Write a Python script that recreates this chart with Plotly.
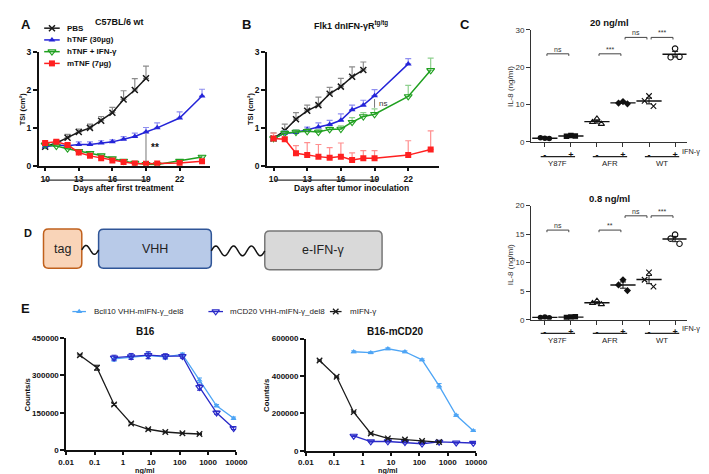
import numpy as np
import plotly.graph_objects as go

W, H = 709, 474
FONT = "Liberation Sans, Arial, sans-serif"

# ---------------- Panel A (C57BL/6 wt) ----------------
a_days_pbs = [10, 11, 12, 13, 14, 15, 16, 17, 18, 19]
a_pbs = [0.50, 0.60, 0.74, 0.89, 1.00, 1.19, 1.40, 1.75, 2.00, 2.31]
a_pbs_sem = [0.03, 0.04, 0.09, 0.08, 0.10, 0.11, 0.14, 0.23, 0.30, 0.32]
a_days = [10, 11, 12, 13, 14, 15, 16, 17, 18, 19, 20, 22, 24]
a_htnf = [0.50, 0.55, 0.53, 0.56, 0.56, 0.60, 0.63, 0.70, 0.77, 0.89, 1.00, 1.26, 1.84]
a_htnf_sem = [0.04, 0.05, 0.05, 0.07, 0.07, 0.06, 0.05, 0.07, 0.09, 0.12, 0.13, 0.16, 0.18]
a_combo = [0.55, 0.52, 0.45, 0.38, 0.33, 0.27, 0.19, 0.12, 0.07, 0.04, 0.03, 0.12, 0.23]
a_combo_sem = [0.03, 0.03, 0.04, 0.04, 0.04, 0.03, 0.03, 0.03, 0.02, 0.02, 0.02, 0.03, 0.04]
a_mtnf = [0.60, 0.63, 0.55, 0.35, 0.26, 0.20, 0.14, 0.10, 0.06, 0.05, 0.06, 0.07, 0.12]
a_mtnf_sem = [0.03, 0.04, 0.04, 0.04, 0.03, 0.03, 0.03, 0.02, 0.02, 0.02, 0.02, 0.02, 0.05]

# ---------------- Panel B (Flk1 dnIFN-gR tg/tg) ----------------
b_days_pbs = [10, 11, 12, 13, 14, 15, 16, 17, 18]
b_pbs = [0.72, 0.93, 1.23, 1.45, 1.60, 1.90, 2.09, 2.35, 2.53]
b_pbs_sem = [0.15, 0.17, 0.17, 0.15, 0.21, 0.17, 0.22, 0.26, 0.21]
b_days_htnf = [10, 11, 12, 13, 14, 15, 16, 17, 18, 19, 22]
b_htnf = [0.72, 0.86, 0.88, 0.96, 1.02, 1.09, 1.20, 1.48, 1.60, 1.85, 2.69]
b_htnf_sem = [0.05, 0.07, 0.06, 0.06, 0.11, 0.11, 0.17, 0.12, 0.13, 0.16, 0.14]
b_days = [10, 11, 12, 13, 14, 15, 16, 17, 18, 19, 22, 24]
b_combo = [0.72, 0.86, 0.89, 0.91, 0.89, 0.96, 0.97, 1.15, 1.30, 1.36, 1.83, 2.52]
b_combo_sem = [0.05, 0.05, 0.05, 0.06, 0.06, 0.06, 0.08, 0.12, 0.10, 0.14, 0.29, 0.32]
b_mtnf = [0.72, 0.70, 0.33, 0.28, 0.24, 0.21, 0.24, 0.15, 0.20, 0.20, 0.28, 0.43]
b_mtnf_sem = [0.14, 0.05, 0.20, 0.33, 0.32, 0.27, 0.36, 0.19, 0.20, 0.20, 0.38, 0.49]

day_ticks = [10, 13, 16, 19, 22]
tsi_ticks = [0, 1, 2, 3]
series_names = ["PBS", "hTNF (30µg)", "hTNF + IFN-γ", "mTNF (7µg)"]

# ---------------- Panel C (IL-8) ----------------
c_groups = ["Y87F", "AFR", "WT"]
c_ifn = ["-", "+", "-", "+", "-", "+"]
c_top = [[1.0, 1.1, 0.9], [1.7, 1.5, 1.6], [6.2, 5.3, 4.8],
         [10.8, 10.4, 10.2], [12.3, 11.0, 9.6], [25.0, 22.7, 22.8]]
c_bot = [[0.45, 0.40, 0.35], [0.45, 0.40, 0.50], [3.3, 2.9, 2.7],
         [7.0, 6.1, 5.1], [8.3, 7.0, 5.8], [14.9, 14.2, 13.3]]
c_top_ticks = [0, 10, 20, 30]
c_bot_ticks = [0, 5, 10, 15, 20]
# (left column, right column, level, label)
c_top_sig = [(0, 1, 23.6, "ns"), (2, 3, 23.6, "***"), (3, 4, 28.0, "ns"), (4, 5, 28.0, "***")]
c_bot_sig = [(0, 1, 15.7, "ns"), (2, 3, 15.7, "**"), (3, 4, 18.2, "ns"), (4, 5, 18.2, "***")]

# ---------------- Panel E (counts/s) ----------------
e_conc_fusion = [0.488, 1.95, 7.81, 31.25, 125, 500, 2000, 8000]
e_conc_mifn = [0.0305, 0.122, 0.488, 1.95, 7.81, 31.25, 125, 500]
e_names = ["Bcll10 VHH-mIFN-γ_del8", "mCD20 VHH-mIFN-γ_del8", "mIFN-γ"]
e_b16_bcll10 = [365000, 372000, 378000, 373000, 383000, 280000, 178000, 128000]
e_b16_bcll10_sem = [9000, 8000, 12000, 9000, 6000, 9000, 5000, 5000]
e_b16_mcd20 = [370000, 375000, 380000, 376000, 376000, 252000, 150000, 88000]
e_b16_mcd20_sem = [10000, 12000, 14000, 10000, 8000, 12000, 6000, 5000]
e_b16_mifn = [380000, 330000, 183000, 107000, 84000, 73000, 68000, 65000]
e_b16_mifn_sem = [3000, 10000, 4000, 3000, 3000, 3000, 2000, 2000]
e_cd20_bcll10 = [530000, 525000, 546000, 530000, 487000, 348000, 190000, 108000]
e_cd20_bcll10_sem = [5000, 5000, 5000, 5000, 5000, 12000, 5000, 4000]
e_cd20_mcd20 = [80000, 50000, 50000, 46000, 38000, 48000, 44000, 42000]
e_cd20_mcd20_sem = [3000, 3000, 3000, 3000, 3000, 3000, 3000, 3000]
e_cd20_mifn = [483000, 396000, 207000, 93000, 67000, 61000, 53000, 47000]
e_cd20_mifn_sem = [3000, 3000, 3000, 3000, 2000, 2000, 2000, 2000]
conc_ticks = [0.01, 0.1, 1, 10, 100, 1000, 10000]
e_b16_ticks = [0, 150000, 300000, 450000]
e_cd20_ticks = [0, 200000, 400000, 600000]

# ---------------- styles ----------------
BLACK = "#1a1a1a"
BLUE = "#2424d8"
GREEN = "#20a020"
RED = "#ff2020"
LBLUE = "#4ea5f5"
DBLUE = "#2a2ac8"
ab_styles = [
    dict(color=BLACK, symbol="x-thin", size=6, lw=1.5, err="#8c8c8c"),
    dict(color=BLUE, symbol="triangle-up", size=6, lw=0, err="#8f8ff0"),
    dict(color=GREEN, symbol="triangle-down-open", size=7, lw=1.1, err="#8ed08e"),
    dict(color=RED, symbol="square", size=6, lw=0, err="#ff8f8f"),
]


def px_x(p):
    return p / W


def px_y(p):
    return 1 - p / H


fig = go.Figure()


def growth_trace(x, y, sem, st, xa, ya):
    fig.add_trace(go.Scatter(
        x=x, y=y, mode="lines+markers", xaxis=xa, yaxis=ya, showlegend=False,
        line=dict(color=st["color"], width=1.5),
        marker=dict(symbol=st["symbol"], size=st["size"], color=st["color"],
                    line=dict(color=st["color"], width=st["lw"])),
        error_y=dict(type="data", symmetric=False, array=sem, arrayminus=[0] * len(sem),
                     color=st["err"], thickness=1.2, width=3),
    ))


# Panel A traces
for (x, y, s), st in zip([(a_days_pbs, a_pbs, a_pbs_sem), (a_days, a_htnf, a_htnf_sem),
                          (a_days, a_combo, a_combo_sem), (a_days, a_mtnf, a_mtnf_sem)], ab_styles):
    growth_trace(x, y, s, st, "x", "y")
# Panel B traces
for (x, y, s), st in zip([(b_days_pbs, b_pbs, b_pbs_sem), (b_days_htnf, b_htnf, b_htnf_sem),
                          (b_days, b_combo, b_combo_sem), (b_days, b_mtnf, b_mtnf_sem)], ab_styles):
    growth_trace(x, y, s, st, "x2", "y2")

# Panel C traces
c_symbols = ["circle", "square", "triangle-up-open", "diamond", "x-thin", "circle-open"]
jit = [0.0, -0.17, 0.17]
for data, xa, ya in [(c_top, "x3", "y3"), (c_bot, "x4", "y4")]:
    for i, reps in enumerate(data):
        sym = c_symbols[i]
        opn = ("open" in sym) or ("x" in sym)
        fig.add_trace(go.Scatter(
            x=[i + j for j in jit], y=reps, mode="markers", xaxis=xa, yaxis=ya, showlegend=False,
            marker=dict(symbol=sym, size=5.5, color="#111",
                        line=dict(color="#111", width=1.1 if opn else 0))))
        arr = np.array(reps)
        fig.add_trace(go.Scatter(
            x=[i], y=[arr.mean()], mode="markers", xaxis=xa, yaxis=ya, showlegend=False,
            marker=dict(symbol="line-ew", size=18, color="#111", line=dict(color="#111", width=1.4)),
            error_y=dict(type="data", array=[arr.std(ddof=1) / np.sqrt(len(arr))],
                         color="#111", thickness=1, width=3)))

# Panel E traces
e_styles = [
    dict(color=LBLUE, symbol="triangle-up", size=5.5, lw=0),
    dict(color=DBLUE, symbol="triangle-down-open", size=6.5, lw=1.2),
    dict(color=BLACK, symbol="x-thin", size=5.5, lw=1.3),
]
for sets, xa, ya in [
    ([(e_conc_fusion, e_b16_bcll10, e_b16_bcll10_sem), (e_conc_fusion, e_b16_mcd20, e_b16_mcd20_sem),
      (e_conc_mifn, e_b16_mifn, e_b16_mifn_sem)], "x5", "y5"),
    ([(e_conc_fusion, e_cd20_bcll10, e_cd20_bcll10_sem), (e_conc_fusion, e_cd20_mcd20, e_cd20_mcd20_sem),
      (e_conc_mifn, e_cd20_mifn, e_cd20_mifn_sem)], "x6", "y6")]:
    for (x, y, s), st in zip(sets, e_styles):
        fig.add_trace(go.Scatter(
            x=x, y=y, mode="lines+markers", xaxis=xa, yaxis=ya, showlegend=False,
            line=dict(color=st["color"], width=1.3),
            marker=dict(symbol=st["symbol"], size=st["size"], color=st["color"],
                        line=dict(color=st["color"], width=st["lw"])),
            error_y=dict(type="data", array=s, color=st["color"], thickness=1, width=2.5)))

# ---------------- legend keys on a pixel overlay axis ----------------
a_leg_rows = [15.5, 27.5, 39.5, 51.5]
for st, yy in zip(ab_styles, a_leg_rows):
    fig.add_trace(go.Scatter(x=[29, 45], y=[yy, yy], mode="lines", xaxis="x7", yaxis="y7",
                             showlegend=False, line=dict(color=st["color"], width=1.5)))
    fig.add_trace(go.Scatter(x=[37], y=[yy], mode="markers", xaxis="x7", yaxis="y7", showlegend=False,
                             marker=dict(symbol=st["symbol"], size=st["size"], color=st["color"],
                                         line=dict(color=st["color"], width=st["lw"]))))
e_leg_x = [(58, 72, 78), (198, 213, 218), (323, 335, 342)]
for st, (x0, x1, xt) in zip(e_styles, e_leg_x):
    fig.add_trace(go.Scatter(x=[x0, x1], y=[305, 305], mode="lines", xaxis="x7", yaxis="y7",
                             showlegend=False, line=dict(color=st["color"], width=1.3)))
    fig.add_trace(go.Scatter(x=[(x0 + x1) / 2], y=[305], mode="markers", xaxis="x7", yaxis="y7",
                             showlegend=False,
                             marker=dict(symbol=st["symbol"], size=st["size"], color=st["color"],
                                         line=dict(color=st["color"], width=st["lw"]))))

# ---------------- axes ----------------
def axis(**kw):
    d = dict(showline=True, linecolor="#111", linewidth=1.5, ticks="outside", ticklen=4,
             tickwidth=1.5, tickcolor="#111", showgrid=False, zeroline=False, fixedrange=True,
             tickfont=dict(family=FONT, size=8.5, color="#111", weight="bold"))
    d.update(kw)
    return d


c_font = dict(family=FONT, size=8, color="#333")
c_xfont = dict(family=FONT, size=9, color="#111", weight="bold")
e_font = dict(family=FONT, size=8, color="#111", weight="bold")
layout_axes = dict(
    xaxis=axis(domain=[px_x(23.3), px_x(199.5)], range=[9.42, 24.7], tickvals=day_ticks, anchor="y"),
    yaxis=axis(domain=[px_y(156), px_y(40)], range=[0, 3], tickvals=tsi_ticks, anchor="x"),
    xaxis2=axis(domain=[px_x(258.3), px_x(434.8)], range=[9.42, 24.7], tickvals=day_ticks, anchor="y2"),
    yaxis2=axis(domain=[px_y(156), px_y(40)], range=[0, 3], tickvals=tsi_ticks, anchor="x2"),
    xaxis3=axis(domain=[px_x(530), px_x(690)], range=[-0.53, 5.44], tickvals=list(range(6)),
                ticktext=c_ifn, anchor="y3", linewidth=1, tickwidth=1, linecolor="#333",
                tickcolor="#333", tickfont=c_xfont),
    yaxis3=axis(domain=[px_y(131.7), px_y(17.3)], range=[0, 30], tickvals=c_top_ticks, anchor="x3",
                linewidth=1, tickwidth=1, linecolor="#333", tickcolor="#333", tickfont=c_font),
    xaxis4=axis(domain=[px_x(530), px_x(690)], range=[-0.53, 5.44], tickvals=list(range(6)),
                ticktext=c_ifn, anchor="y4", linewidth=1, tickwidth=1, linecolor="#333",
                tickcolor="#333", tickfont=c_xfont),
    yaxis4=axis(domain=[px_y(313.3), px_y(196.7)], range=[0, 20], tickvals=c_bot_ticks, anchor="x4",
                linewidth=1, tickwidth=1, linecolor="#333", tickcolor="#333", tickfont=c_font),
    xaxis5=axis(domain=[px_x(51.6), px_x(226.8)], type="log", range=[-2, 4], tickvals=conc_ticks,
                ticktext=[str(t) for t in conc_ticks], anchor="y5", tickfont=e_font, ticklen=3),
    yaxis5=axis(domain=[px_y(446.7), px_y(331.7)], range=[0, 450000], tickvals=e_b16_ticks,
                ticktext=[str(t) for t in e_b16_ticks], anchor="x5", tickfont=e_font),
    xaxis6=axis(domain=[px_x(298.2), px_x(473.4)], type="log", range=[-2, 4], tickvals=conc_ticks,
                ticktext=[str(t) for t in conc_ticks], anchor="y6", tickfont=e_font, ticklen=3),
    yaxis6=axis(domain=[px_y(447.3), px_y(332.7)], range=[0, 600000], tickvals=e_cd20_ticks,
                ticktext=[str(t) for t in e_cd20_ticks], anchor="x6", tickfont=e_font),
    xaxis7=dict(domain=[0, 1], range=[0, W], visible=False, fixedrange=True, anchor="y7"),
    yaxis7=dict(domain=[0, 1], range=[H, 0], visible=False, fixedrange=True, anchor="x7"),
)

# ---------------- shapes ----------------
shapes = []
# treatment underbars
shapes.append(dict(type="line", xref="x", yref="y7", x0=9.85, x1=19.15, y0=170.7, y1=170.7,
                   line=dict(color="#333", width=1.2)))
shapes.append(dict(type="line", xref="x2", yref="y7", x0=10.1, x1=19.2, y0=170.7, y1=170.7,
                   line=dict(color="#333", width=1.2)))
# significance lines A/B
shapes.append(dict(type="line", xref="x", yref="y", x0=19, x1=19, y0=0.1, y1=0.85,
                   line=dict(color="#777", width=1)))
shapes.append(dict(type="line", xref="x2", yref="y2", x0=19, x1=19, y0=1.53, y1=1.76,
                   line=dict(color="#777", width=1)))

annotations = []


def ann(x, y, text, size, bold=False, color="#111", xanchor="center", yanchor="middle",
        xref="x7", yref="y7", angle=0, yshift=0):
    annotations.append(dict(x=x, y=y, xref=xref, yref=yref, text=text, showarrow=False,
                            xanchor=xanchor, yanchor=yanchor, textangle=angle, yshift=yshift,
                            font=dict(family=FONT, size=size, color=color,
                                      weight="bold" if bold else "normal")))


# C brackets + group underlines
for sig, xa, ya, tick, y_under, y_lab, y_ifn in [
        (c_top_sig, "x3", "y3", 0.55, 146.7, 154, 141.5),
        (c_bot_sig, "x4", "y4", 0.37, 327.3, 334.5, 322)]:
    for (i0, i1, lev, lab) in sig:
        x0, x1 = i0 + 0.08, i1 - 0.08
        shapes.append(dict(type="path", xref=xa, yref=ya,
                           path=f"M {x0},{lev - tick} L {x0},{lev} L {x1},{lev} L {x1},{lev - tick}",
                           line=dict(color="#444", width=1)))
        ann((i0 + i1) / 2, lev, lab, 7, color="#333", xref=xa, yref=ya, yanchor="bottom", yshift=-1)
    for gi, g in enumerate(c_groups):
        cx = 2 * gi + 0.5
        shapes.append(dict(type="line", xref=xa, yref="y7", x0=cx - 0.66, x1=cx + 0.66,
                           y0=y_under, y1=y_under, line=dict(color="#222", width=1.2)))
        ann(cx, y_lab, g, 7.8, color="#222", xref=xa)
    ann(683, y_ifn, "IFN-γ", 7.3, color="#222", xanchor="left")


# Panel D diagram (pixel coordinates on overlay axis)
def rrect(x0, y0, x1, y1, r=5):
    return (f"M {x0 + r},{y0} L {x1 - r},{y0} Q {x1},{y0} {x1},{y0 + r} L {x1},{y1 - r} "
            f"Q {x1},{y1} {x1 - r},{y1} L {x0 + r},{y1} Q {x0},{y1} {x0},{y1 - r} "
            f"L {x0},{y0 + r} Q {x0},{y0} {x0 + r},{y0} Z")


def wave(x0, x1, yc, amp, periods):
    t = np.linspace(0, 1, 60)
    xs = x0 + (x1 - x0) * t
    ys = yc - amp * np.sin(2 * np.pi * periods * t)
    return "M " + " L ".join(f"{a:.2f},{b:.2f}" for a, b in zip(xs, ys))


d_boxes = [(28.3, 220.7, 67.7, 260.7, "#F9D4B8", "#C0601C", "tag"),
           (85, 221, 201, 260.7, "#B8CAE8", "#2F5597", "VHH"),
           (256, 222.7, 376.7, 262.3, "#D9D9D9", "#777777", "e-IFN-γ")]
for x0, y0, x1, y1, fc, lc, lab in d_boxes:
    shapes.append(dict(type="path", xref="x7", yref="y7", path=rrect(x0, y0, x1, y1),
                       fillcolor=fc, line=dict(color=lc, width=1.5), layer="below"))
    ann((x0 + x1) / 2, (y0 + y1) / 2, lab, 12.5, color="#222")
shapes.append(dict(type="path", xref="x7", yref="y7", path=wave(67.7, 85, 242, 4.5, 1.0),
                   line=dict(color="#111", width=1.5)))
shapes.append(dict(type="path", xref="x7", yref="y7", path=wave(201, 256, 243, 5, 3.0),
                   line=dict(color="#111", width=1.5)))

# ---------------- text ----------------
ann(10, 12, "A", 13, bold=True)
ann(237, 12, "B", 13, bold=True)
ann(462, 12, "C", 13, bold=True)
ann(12, 225, "D", 11, bold=True)
ann(10, 302, "E", 13, bold=True)
ann(106, 9.5, "C57BL/6 wt", 9, bold=True)
ann(345, 12, "Flk1 dnIFN-γR<sup>tg/tg</sup>", 9, bold=True)
ann(611, 9.5, "20 ng/ml", 9.5, bold=True)
ann(611, 190, "0.8 ng/ml", 9.5, bold=True)
ann(133, 325, "B16", 10, bold=True)
ann(390, 325, "B16-mCD20", 10, bold=True)
ann(111, 178.3, "Days after first treatment", 8.5, bold=True)
ann(345, 178.3, "Days after tumor inoculation", 8.5, bold=True)
ann(7.5, 98, "TSI (cm²)", 7.5, bold=True, angle=-90)
ann(242, 98, "TSI (cm²)", 7.5, bold=True, angle=-90)
ann(509, 75, "IL-8 (ng/ml)", 8, color="#333", angle=-90)
ann(509, 257, "IL-8 (ng/ml)", 8, color="#333", angle=-90)
ann(12, 390, "Counts/s", 7.8, bold=True, angle=-90)
ann(258.5, 390, "Counts/s", 7.8, bold=True, angle=-90)
ann(132, 467.3, "ng/ml", 7.3, bold=True)
ann(382, 467.3, "ng/ml", 7.3, bold=True)
ann(19.3, 0.48, "**", 10, bold=True, xref="x", yref="y", xanchor="left")
ann(19.25, 1.65, "ns", 8, xref="x2", yref="y2", xanchor="left", color="#333")
for name, yy in zip(series_names, a_leg_rows):
    ann(50, yy, name, 8, bold=True, xanchor="left")
for name, (x0, x1, xt) in zip(e_names, e_leg_x):
    ann(xt, 305, name, 8, xanchor="left", color="#222")

fig.update_layout(
    width=W, height=H, autosize=False, margin=dict(l=0, r=0, t=0, b=0),
    paper_bgcolor="white", plot_bgcolor="rgba(0,0,0,0)", showlegend=False,
    font=dict(family=FONT, size=9, color="#111"),
    shapes=shapes, annotations=annotations, **layout_axes)

fig.write_html("out.html")
